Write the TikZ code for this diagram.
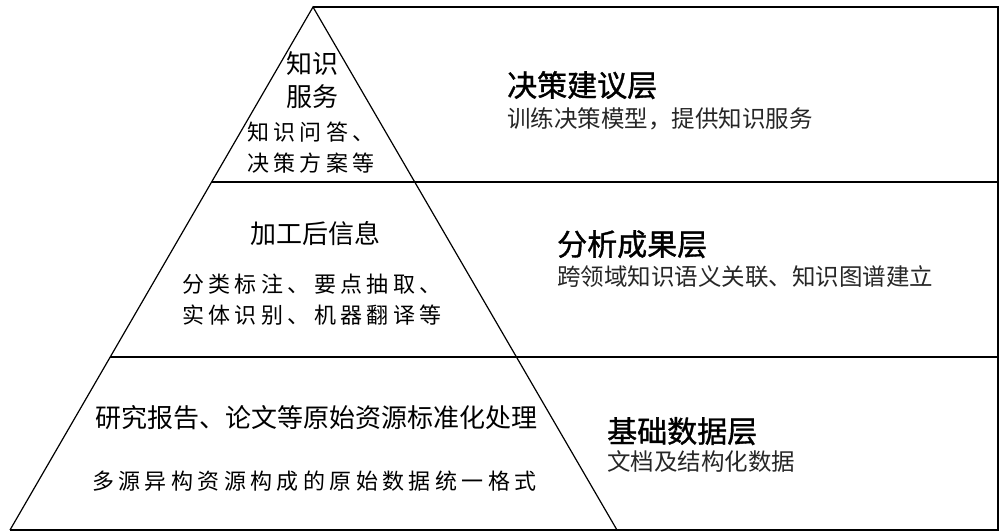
\documentclass[tikz,border=0pt]{standalone}
\usepackage{fontspec}
\newfontfamily\cjk{Noto Sans CJK SC}
\newfontfamily\cjkspaced[LetterSpace=20]{Noto Sans CJK SC}
\newfontfamily\cjkheavy[FakeBold=1.2]{Noto Sans CJK SC}

\begin{document}
\begin{tikzpicture}[x=1pt,y=-1pt,
 boxline/.style={line width=1.8pt},
 pyrline/.style={line width=1.2pt},
 song/.style={inner sep=0pt,align=center,font=\cjk\fontsize{26}{33}\selectfont},
 kai/.style={inner sep=0pt,anchor=west,align=left,font=\cjkspaced\fontsize{22}{31}\selectfont},
 title/.style={inner sep=0pt,anchor=base west,font=\cjkheavy\fontsize{30}{36}\selectfont},
 sub/.style={inner sep=0pt,anchor=base west,text=black!85,font=\cjk\fontsize{23.5}{28}\selectfont}]
\useasboundingbox (0,0) rectangle (1002,531);
% pyramid corners and layer borders
\coordinate (apex) at (313,7);
\coordinate (l1) at (211.6,182);
\coordinate (l2) at (110.2,357);
\coordinate (bl) at (10,530);
\coordinate (br) at (617,530);
\coordinate (e0) at (998,7);
\coordinate (e1) at (998,182);
\coordinate (e2) at (998,357);
\coordinate (e3) at (998,530);
\draw[boxline] (apex)--(e0)--(e3)--(bl);
\draw[boxline] (l1)--(e1);
\draw[boxline] (l2)--(e2);
\draw[pyrline] (bl)--(apex)--(br);
% texts inside the pyramid
\node[song] (serv) at (312,80.5) {知识\\服务};
\node[kai] (qa) at (247,147.5) {知识问答、\\决策方案等};
\node[song] (info) at (315,234) {加工后信息};
\node[kai] (proc) at (182,299.5) {分类标注、要点抽取、\\实体识别、机器翻译等};
\node[song,anchor=west] (std) at (95,418) {研究报告、论文等原始资源标准化处理};
\node[kai] (fmt) at (92,481) {多源异构资源构成的原始数据统一格式};
% layer names
\node[title] (top) at (507,96.4) {决策建议层};
\node[sub] (topsub) at (507,127) {训练决策模型，提供知识服务};
\node[title] (mid) at (557,255.4) {分析成果层};
\node[sub] (midsub) at (557,285) {跨领域知识语义关联、知识图谱建立};
\node[title] (base) at (607,442.4) {基础数据层};
\node[sub] (basesub) at (607,470) {文档及结构化数据};
\end{tikzpicture}
\end{document}
